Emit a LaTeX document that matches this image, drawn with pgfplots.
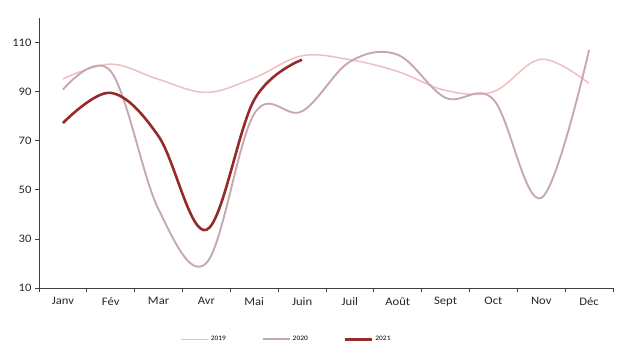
\documentclass[border=0pt]{standalone}
\usepackage{pgfplots}
\pgfplotsset{compat=1.18}
\usepackage{fontspec}
\setmainfont{Carlito}[FakeStretch=1.1]
\definecolor{c19}{RGB}{240,190,190}
\definecolor{c20}{RGB}{198,168,176}
\definecolor{c21}{RGB}{150,42,42}
\definecolor{axc}{RGB}{64,64,64}
\begin{document}
\begin{tikzpicture}
\useasboundingbox (-39bp,-69bp) rectangle (597bp,288bp);
\begin{axis}[
  at={(0,0)}, anchor=south west,
  scale only axis, width=574bp, height=270bp,
  xmin=-0.5, xmax=11.5, ymin=10, ymax=120,
  axis x line*=bottom, axis y line*=left,
  axis line style={axc, line width=0.8pt, -},
  xtick={0,...,11},
  xticklabels={Janv,Fév,Mar,Avr,Mai,Juin,Juil,Août,Sept,Oct,Nov,Déc},
  major x tick style={draw=none},
  minor xtick={-0.5,0.5,...,11.5},
  minor x tick style={axc, line width=0.8pt},
  minor tick length=4bp,
  ytick={10,30,50,70,90,110},
  major tick length=4bp,
  y tick style={axc, line width=0.8pt},
  tick align=outside,
  ticklabel style={font=\fontsize{11.5}{13}\selectfont, text=black!85},
  /pgf/number format/assume math mode=true,
  xticklabel style={yshift=-2bp},
  legend style={at={(axis description cs:0.431,-0.19)}, anchor=center,
    draw=none, font=\fontsize{6.8}{8}\selectfont, legend columns=3,
    /tikz/every even column/.append style={column sep=34bp}},
  legend image code/.code={\draw[#1] (0cm,0cm) -- (27bp,0cm);},
  every axis plot/.append style={smooth, tension=0.6, no markers},
]
\addplot[c19, line width=1.5pt] coordinates {
(0,95.2) (1,101.2) (2,95.0) (3,89.7) (4,95.6) (5,104.6) (6,103.0) (7,98.2) (8,90.5) (9,90.0) (10,103.2) (11,93.3)};
\addlegendentry{2019}
\addplot[c20, line width=1.9pt] coordinates {
(0,90.8) (1,98.3) (2,42.0) (3,20.2) (4,81.0) (5,82.0) (6,102.2) (7,105.0) (8,87.5) (9,86.8) (10,46.7) (11,107.0)};
\addlegendentry{2020}
\addplot[c21, line width=2.6pt] coordinates {
(0,77.2) (1,89.5) (2,71.8) (3,33.7) (4,86.7) (5,103.0)};
\addlegendentry{2021}
\end{axis}
\end{tikzpicture}
\end{document}
